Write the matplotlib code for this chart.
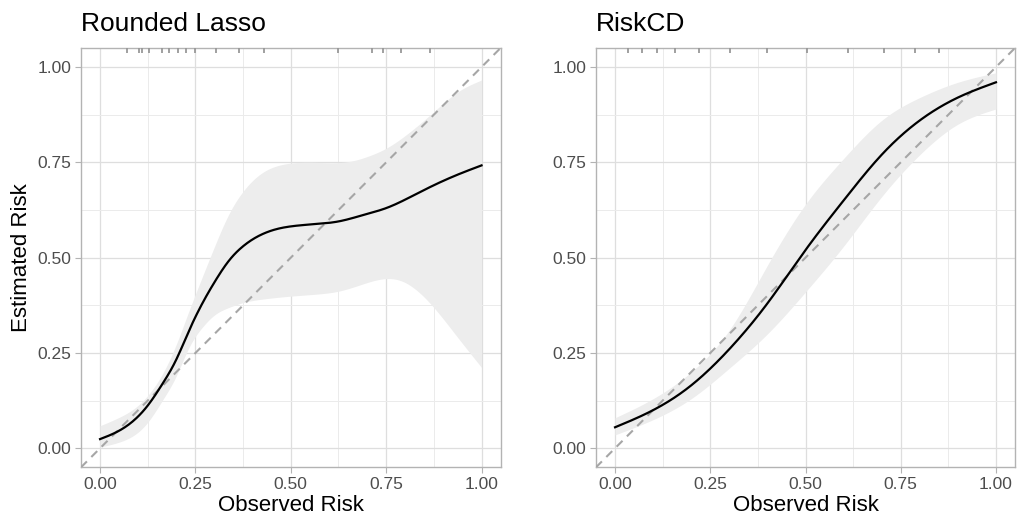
import numpy as np
import matplotlib.pyplot as plt

# Rounded Lasso: smoothed calibration curve and band
lasso_x = [0.0, 0.05, 0.093, 0.128, 0.163, 0.198, 0.233, 0.267, 0.302, 0.337, 0.375,
           0.424, 0.476, 0.5, 0.564, 0.625, 0.694, 0.75, 0.825, 0.875, 0.938, 1.0]
lasso_y = [0.024, 0.046, 0.077, 0.116, 0.168, 0.229, 0.308, 0.378, 0.439, 0.491, 0.530,
           0.561, 0.578, 0.582, 0.588, 0.595, 0.613, 0.630, 0.665, 0.690, 0.718, 0.742]
lasso_up_x = [0.0, 0.05, 0.093, 0.128, 0.163, 0.198, 0.233, 0.267, 0.302, 0.337, 0.375,
              0.424, 0.476, 0.5, 0.564, 0.651, 0.713, 0.75, 0.790, 0.875, 0.938, 1.0]
lasso_up = [0.059, 0.081, 0.107, 0.142, 0.194, 0.268, 0.360, 0.447, 0.534, 0.613, 0.674,
            0.722, 0.744, 0.748, 0.750, 0.752, 0.770, 0.787, 0.813, 0.883, 0.935, 0.966]
lasso_lo_x = [0.0, 0.05, 0.093, 0.128, 0.163, 0.198, 0.233, 0.267, 0.302, 0.337, 0.375,
              0.424, 0.5, 0.564, 0.625, 0.686, 0.75, 0.790, 0.875, 0.938, 1.0]
lasso_lo = [0.003, 0.016, 0.037, 0.072, 0.125, 0.186, 0.264, 0.316, 0.351, 0.369, 0.382,
            0.391, 0.399, 0.404, 0.412, 0.430, 0.445, 0.439, 0.369, 0.290, 0.212]
lasso_rug = [0.071, 0.102, 0.109, 0.128, 0.163, 0.182, 0.204, 0.226, 0.250, 0.305,
             0.365, 0.429, 0.625, 0.714, 0.742, 0.790, 0.866]

# RiskCD
cd_x = [0.0, 0.1, 0.2, 0.3, 0.4, 0.5, 0.6, 0.7, 0.8, 0.9, 1.0]
cd_y = [0.055, 0.10, 0.165, 0.26, 0.38, 0.52, 0.65, 0.77, 0.86, 0.92, 0.96]
cd_up = [0.08, 0.13, 0.20, 0.31, 0.48, 0.64, 0.76, 0.86, 0.92, 0.96, 0.985]
cd_lo = [0.035, 0.075, 0.13, 0.21, 0.30, 0.41, 0.53, 0.66, 0.77, 0.85, 0.89]
cd_rug = [0.035, 0.072, 0.109, 0.157, 0.220, 0.303, 0.400, 0.504, 0.611, 0.707,
          0.788, 0.851]

ticks = [0.0, 0.25, 0.5, 0.75, 1.0]
tick_labels = ['0.00', '0.25', '0.50', '0.75', '1.00']
minor = [0.125, 0.375, 0.625, 0.875]

plt.rcParams['font.family'] = ['Liberation Sans', 'DejaVu Sans']

fig = plt.figure(figsize=(10.17, 5.18), dpi=100)
W, H = 1017, 518
bot = (518 - 467.3) / H
hgt = (467.3 - 48) / H
ax1 = fig.add_axes([81 / W, bot, (500.6 - 81) / W, hgt])
ax2 = fig.add_axes([596 / W, bot, (1015 - 596) / W, hgt])


# natural cubic spline through the read-off points, just for smooth drawing
def spline(xs, ys, xx):
    x = np.asarray(xs, float)
    y = np.asarray(ys, float)
    n = len(x)
    h = np.diff(x)
    A = np.zeros((n, n))
    b = np.zeros(n)
    A[0, 0] = A[-1, -1] = 1
    for i in range(1, n - 1):
        A[i, i - 1] = h[i - 1]
        A[i, i] = 2 * (h[i - 1] + h[i])
        A[i, i + 1] = h[i]
        b[i] = 6 * ((y[i + 1] - y[i]) / h[i] - (y[i] - y[i - 1]) / h[i - 1])
    m = np.linalg.solve(A, b)
    k = np.clip(np.searchsorted(x, xx) - 1, 0, n - 2)
    t0 = xx - x[k]
    t1 = x[k + 1] - xx
    hk = h[k]
    return (m[k] * t1**3 / (6 * hk) + m[k + 1] * t0**3 / (6 * hk)
            + (y[k] / hk - m[k] * hk / 6) * t1 + (y[k + 1] / hk - m[k + 1] * hk / 6) * t0)


def style(ax, title):
    ax.set_xlim(-0.05, 1.05)
    ax.set_ylim(-0.05, 1.05)
    ax.set_xticks(ticks)
    ax.set_xticklabels(tick_labels)
    ax.set_yticks(ticks)
    ax.set_yticklabels(tick_labels)
    ax.set_xticks(minor, minor=True)
    ax.set_yticks(minor, minor=True)
    ax.grid(True, which='major', color='#DEDEDE', linewidth=0.9)
    ax.grid(True, which='minor', color='#EBEBEB', linewidth=0.7)
    ax.set_axisbelow(True)
    ax.tick_params(which='major', length=4, width=0.8, color='#B3B3B3',
                   labelcolor='#4D4D4D', labelsize=12.5, pad=3)
    ax.tick_params(which='minor', length=0)
    for s in ax.spines.values():
        s.set_color('#B3B3B3')
        s.set_linewidth(1.0)
    ax.set_xlabel('Observed Risk', fontsize=16, labelpad=2)
    ax.set_title(title, loc='left', fontsize=19, pad=12)


def panel(ax, lx, ly, ux, uy, dx, dy, rug, title):
    xx = np.linspace(0, 1, 400)
    ax.fill_between(xx, spline(dx, dy, xx), spline(ux, uy, xx),
                    color='#EDEDED', linewidth=0, zorder=2)
    ax.plot([-0.05, 1.05], [-0.05, 1.05], color='#A6A6A6', linestyle=(0, (4, 3)),
            linewidth=1.5, zorder=3)
    ax.plot(xx, spline(lx, ly, xx), color='black', linewidth=1.6, zorder=4)
    for r in rug:
        ax.plot([r, r], [1.05, 1.038], color='#999999', linewidth=1.3, zorder=5,
                solid_capstyle='butt')
    style(ax, title)


panel(ax1, lasso_x, lasso_y, lasso_up_x, lasso_up, lasso_lo_x, lasso_lo,
      lasso_rug, 'Rounded Lasso')
panel(ax2, cd_x, cd_y, cd_x, cd_up, cd_x, cd_lo, cd_rug, 'RiskCD')
ax1.set_ylabel('Estimated Risk', fontsize=16, labelpad=4)

fig.savefig('out.png', dpi=100)
